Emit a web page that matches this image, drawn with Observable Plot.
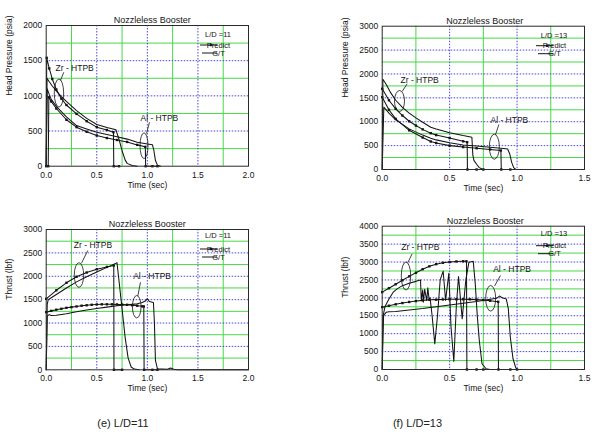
<!DOCTYPE html>
<html>
<head>
<meta charset="utf-8">
<script src="https://cdn.jsdelivr.net/npm/d3@7"></script>
<script src="https://cdn.jsdelivr.net/npm/@observablehq/plot@0.6"></script>
<style>
  html, body { margin: 0; padding: 0; background: #fff; }
  #fig { position: relative; width: 598px; height: 432px; overflow: hidden; background: #fff;
         font-family: "Liberation Sans", Arial, sans-serif; }
  #fig svg { position: absolute; }
  .cap { position: absolute; top: 423px; transform: translate(-50%, -50%); font-size: 11px;
         font-family: "Liberation Sans Narrow", "Liberation Sans", Arial, sans-serif; color: #222; white-space: nowrap; }
</style>
</head>
<body>
<div id="fig"></div>
<script>
// ---- axis ticks ----
const timeTicksLong = [0, 0.5, 1.0, 1.5, 2.0];
const timeTicksShort = [0, 0.5, 1.0, 1.5];
const ticks2000 = [0, 500, 1000, 1500, 2000];
const ticks3000 = [0, 500, 1000, 1500, 2000, 2500, 3000];
const ticks4000 = [0, 500, 1000, 1500, 2000, 2500, 3000, 3500, 4000];

// ---- (e) L/D=11 : head pressure (psia) ----
const hp11ZrPredT = [0, 0.005, 0.03, 0.06, 0.1, 0.15, 0.2, 0.3, 0.4, 0.5, 0.6, 0.665, 0.668, 0.72];
const hp11ZrPredV = [0, 1540, 1390, 1240, 1090, 960, 870, 744, 640, 555, 515, 483, 0, 0];
const hp11ZrGtT = [0, 0.008, 0.03, 0.06, 0.1, 0.15, 0.2, 0.3, 0.4, 0.5, 0.6, 0.69, 0.7, 0.72, 0.75, 0.78, 0.8, 0.85, 0.9];
const hp11ZrGtV = [0, 1250, 1200, 1140, 1070, 990, 920, 791, 680, 592, 550, 517, 470, 380, 220, 90, 40, 10, 0];
const hp11AlPredT = [0.02, 0.026, 0.05, 0.1, 0.2, 0.3, 0.4, 0.5, 0.6, 0.7, 0.8, 0.9, 0.98, 0.983, 1.05, 1.1];
const hp11AlPredV = [0, 980, 920, 820, 660, 555, 490, 436, 400, 372, 345, 303, 275, 0, 0, 0];
const hp11AlGtT = [0, 0.01, 0.03, 0.05, 0.1, 0.2, 0.3, 0.4, 0.5, 0.6, 0.7, 0.8, 0.9, 1.0, 1.05, 1.065, 1.08, 1.1, 1.13];
const hp11AlGtV = [0, 1100, 1020, 950, 850, 700, 578, 530, 483, 450, 420, 385, 341, 315, 305, 220, 80, 15, 0];

// ---- (f) L/D=13 : head pressure (psia) ----
const hp13ZrPredT = [0, 0.05, 0.1, 0.15, 0.2, 0.25, 0.3, 0.36, 0.4, 0.5, 0.6, 0.63, 0.632, 0.7, 0.75];
const hp13ZrPredV = [1690, 1450, 1270, 1130, 1010, 920, 840, 760, 720, 660, 590, 572, 0, 0, 0];
const hp13ZrGtT = [0, 0.005, 0.03, 0.06, 0.1, 0.15, 0.2, 0.25, 0.3, 0.36, 0.4, 0.5, 0.6, 0.665, 0.672, 0.68, 0.7, 0.72, 0.74, 0.76];
const hp13ZrGtV = [0, 1890, 1780, 1620, 1450, 1300, 1180, 1080, 990, 886, 850, 770, 710, 677, 300, 190, 110, 40, 10, 0];
const hp13AlPredT = [0, 0.05, 0.1, 0.2, 0.3, 0.36, 0.4, 0.5, 0.6, 0.7, 0.8, 0.88, 0.883, 0.95];
const hp13AlPredV = [1514, 1250, 1060, 820, 670, 586, 555, 500, 470, 445, 420, 398, 0, 0];
const hp13AlGtT = [0, 0.012, 0.05, 0.1, 0.2, 0.3, 0.36, 0.4, 0.5, 0.6, 0.7, 0.8, 0.9, 0.93, 0.945, 0.96, 0.975, 0.99];
const hp13AlGtV = [0, 1305, 1180, 1040, 850, 720, 656, 620, 560, 515, 490, 465, 440, 430, 330, 150, 40, 0];

// ---- (e) L/D=11 : thrust (lbf) ----
const th11ZrPredT = [0, 0.1, 0.2, 0.3, 0.4, 0.5, 0.6, 0.668, 0.67, 0.75];
const th11ZrPredV = [1518, 1700, 1860, 1990, 2080, 2150, 2200, 2230, 0, 0];
const th11ZrGtT = [0, 0.01, 0.02, 0.05, 0.1, 0.2, 0.3, 0.4, 0.5, 0.6, 0.68, 0.7, 0.72, 0.75, 0.78, 0.81, 0.84, 0.87, 0.92];
const th11ZrGtV = [0, 1400, 1500, 1540, 1610, 1750, 1880, 1990, 2090, 2190, 2270, 2290, 1900, 1300, 700, 250, 60, 15, 0];
const th11AlPredT = [0, 0.05, 0.1, 0.15, 0.2, 0.25, 0.3, 0.35, 0.4, 0.45, 0.5, 0.55, 0.6, 0.65, 0.7, 0.75, 0.8, 0.85, 0.9, 0.95, 0.965, 0.968, 1.05, 1.1];
const th11AlPredV = [1233, 1260, 1285, 1305, 1325, 1340, 1355, 1370, 1380, 1390, 1397, 1400, 1400, 1400, 1398, 1395, 1390, 1380, 1370, 1358, 1354, 0, 0, 0];
const th11AlGtT = [0, 0.01, 0.03, 0.05, 0.1, 0.2, 0.3, 0.4, 0.5, 0.6, 0.7, 0.8, 0.9, 0.95, 0.98, 1.0, 1.02, 1.04, 1.06, 1.07, 1.08, 1.1, 1.2, 1.23, 1.26, 1.3, 2.0];
const th11AlGtV = [0, 1150, 1180, 1160, 1165, 1200, 1240, 1280, 1310, 1340, 1370, 1390, 1410, 1440, 1470, 1520, 1460, 1450, 1440, 1000, 200, 20, 10, 40, 10, 0, 0];

// ---- (f) L/D=13 : thrust (lbf) ----
const th13ZrPredT = [0, 0.05, 0.1, 0.15, 0.2, 0.25, 0.3, 0.35, 0.4, 0.45, 0.5, 0.55, 0.6, 0.625, 0.628, 0.7, 0.75];
const th13ZrPredV = [2160, 2270, 2380, 2490, 2600, 2700, 2800, 2880, 2940, 2980, 3000, 3015, 3020, 3020, 0, 0, 0];
const th13ZrGtT = [0, 0.005, 0.02, 0.05, 0.08, 0.11, 0.15, 0.2, 0.25, 0.284, 0.29, 0.3, 0.305, 0.315, 0.33, 0.338, 0.348, 0.355, 0.37, 0.39, 0.41, 0.43, 0.452, 0.47, 0.494, 0.51, 0.531, 0.55, 0.566, 0.593, 0.62, 0.643, 0.675, 0.69, 0.705, 0.72, 0.74, 0.77, 0.8];
const th13ZrGtV = [0, 1460, 1750, 1970, 2150, 2250, 2340, 2410, 2460, 2500, 1925, 2220, 1880, 2240, 1925, 2280, 1950, 2000, 1500, 716, 1500, 2500, 2744, 1925, 2688, 1200, 223, 1800, 2595, 1414, 2500, 2995, 3023, 2390, 1500, 810, 160, 20, 0];
const th13AlPredT = [0, 0.05, 0.1, 0.15, 0.2, 0.25, 0.3, 0.35, 0.4, 0.45, 0.5, 0.55, 0.6, 0.65, 0.7, 0.75, 0.8, 0.86, 0.862, 0.95, 1.0];
const th13AlPredV = [1740, 1780, 1820, 1855, 1885, 1910, 1930, 1945, 1950, 1955, 1960, 1960, 1960, 1958, 1950, 1940, 1920, 1890, 0, 0, 0];
const th13AlGtT = [0, 0.01, 0.03, 0.05, 0.1, 0.2, 0.3, 0.4, 0.5, 0.6, 0.7, 0.8, 0.85, 0.87, 0.89, 0.92, 0.935, 0.95, 0.97, 0.99, 1.0, 1.5];
const th13AlGtV = [0, 1500, 1600, 1610, 1620, 1660, 1700, 1750, 1800, 1850, 1900, 1960, 1990, 2050, 2000, 1970, 1700, 900, 300, 50, 0, 0];

// ---- drawing ----
const ink = "#141414";
const gridGreen = "#48d848";
const gridBlue = "#4848d0";
const rows = (ts, vs) => ts.map((t, i) => ({t, v: vs[i]}));
const innerTicks = (ticks) => ticks.slice(1, -1);
const midTicks = (ticks) => d3.pairs(ticks, (a, b) => (a + b) / 2);

// ellipses around each pair of curves (centre in data units, radii in px)
function ellipseMark(notes) {
  return (index, scales) => {
    const g = d3.create("svg:g").attr("fill", "none").attr("stroke", ink).attr("stroke-width", 0.8);
    for (const n of notes) {
      g.append("ellipse").attr("cx", scales.x(n.ex)).attr("cy", scales.y(n.ey)).attr("rx", n.rx).attr("ry", n.ry);
    }
    return g.node();
  };
}

// "L/D" legend block anchored to the top-right corner of the frame
function legendMark(ld, ldDy) {
  return (index, scales, values, dims) => {
    const R = dims.width - dims.marginRight, T = dims.marginTop;
    const g = d3.create("svg:g").attr("font-size", 7.5).attr("fill", ink);
    g.append("text").attr("x", R - 30).attr("y", T + ldDy).attr("text-anchor", "middle").attr("dy", "0.35em").text(ld);
    g.append("line").attr("x1", R - 48).attr("x2", R - 31).attr("y1", T + 20).attr("y2", T + 20).attr("stroke", ink).attr("stroke-width", 1);
    g.append("rect").attr("x", R - 38.2).attr("y", T + 18.8).attr("width", 2.4).attr("height", 2.4).attr("fill", ink);
    g.append("text").attr("x", R - 29.5).attr("y", T + 20).attr("dy", "0.35em").text("Predict");
    g.append("line").attr("x1", R - 46).attr("x2", R - 31).attr("y1", T + 28).attr("y2", T + 28).attr("stroke", ink).attr("stroke-width", 1);
    g.append("text").attr("x", R - 29.5).attr("y", T + 28).attr("dy", "0.35em").text("G/T");
    return g.node();
  };
}

function panel(cfg) {
  const marks = [
    Plot.ruleX(midTicks(cfg.xTicks), {stroke: gridGreen, strokeWidth: 1}),
    Plot.ruleY(midTicks(cfg.yTicks), {stroke: gridGreen, strokeWidth: 1}),
    Plot.ruleX(innerTicks(cfg.xTicks), {stroke: gridBlue, strokeWidth: 1, strokeDasharray: "1.5,1.5"}),
    Plot.ruleY(innerTicks(cfg.yTicks), {stroke: gridBlue, strokeWidth: 1, strokeDasharray: "1.5,1.5"})
  ];
  for (const s of cfg.series) {
    const data = rows(s.t, s.v);
    marks.push(Plot.line(data, {x: "t", y: "v", stroke: ink, strokeWidth: 1.05}));
    if (s.predict) marks.push(Plot.dot(data, {x: "t", y: "v", symbol: "square", r: 1.35, fill: ink, stroke: "none"}));
  }
  marks.push(
    Plot.frame({stroke: "#2a2a2a", strokeWidth: 1}),
    Plot.text(cfg.notes, {x: "tx", y: "ty", text: "label", textAnchor: "start", fontSize: 8.5, fill: ink}),
    Plot.link(cfg.notes, {x1: "lx1", y1: "ly1", x2: "lx2", y2: "ly2", stroke: ink, strokeWidth: 0.8}),
    ellipseMark(cfg.notes),
    legendMark(cfg.ld, cfg.ldDy),
    Plot.text(["Nozzleless Booster"], {frameAnchor: "top", dy: -9, dx: cfg.titleDx, fontSize: 9, fill: ink}),
    Plot.text(["Time (sec)"], {frameAnchor: "bottom", dy: 21.3, fontSize: 8.5, fill: ink}),
    Plot.text([cfg.yLabel], {frameAnchor: "left", dx: -37.2, rotate: -90, fontSize: 8.5, fill: ink})
  );
  const svg = Plot.plot({
    width: cfg.width, height: cfg.height,
    marginTop: cfg.margin[0], marginRight: cfg.margin[1], marginBottom: cfg.margin[2], marginLeft: cfg.margin[3],
    style: {fontFamily: "'Liberation Sans', Arial, sans-serif", fontSize: "8.5px", color: ink, background: "none", overflow: "visible"},
    x: {domain: cfg.xDomain, ticks: cfg.xTicks, tickFormat: d3.format(".1f"), tickSize: 0, tickPadding: 5.3, label: null},
    y: {domain: cfg.yDomain, ticks: cfg.yTicks, tickFormat: d3.format("d"), tickSize: 0, tickPadding: 4, label: null},
    marks
  });
  svg.style.left = cfg.left + "px";
  svg.style.top = cfg.top + "px";
  return svg;
}

const panels = [
  {
    left: 0, top: 0, width: 300, height: 200, margin: [25, 52, 34.3, 45.7],
    xDomain: [0, 2], yDomain: [0, 2000], xTicks: timeTicksLong, yTicks: ticks2000,
    yLabel: "Head Pressure (psia)", ld: "L/D =11", ldDy: 9.5, titleDx: 4.8,
    series: [
      {t: hp11ZrPredT, v: hp11ZrPredV, predict: true},
      {t: hp11ZrGtT, v: hp11ZrGtV},
      {t: hp11AlPredT, v: hp11AlPredV, predict: true},
      {t: hp11AlGtT, v: hp11AlGtV}
    ],
    notes: [
      {label: "Zr - HTPB", tx: 0.092, ty: 1385, ex: 0.131, ey: 1033, rx: 4.7, ry: 14, lx1: 0.174, ly1: 1336, lx2: 0.141, ly2: 1218},
      {label: "Al - HTPB", tx: 0.932, ty: 688, ex: 0.972, ey: 284, rx: 4, ry: 12.8, lx1: 1.021, ly1: 625, lx2: 0.992, ly2: 465}
    ]
  },
  {
    left: 300, top: 0, width: 298, height: 200, margin: [25.7, 14, 31, 81.7],
    xDomain: [0, 1.5], yDomain: [0, 3000], xTicks: timeTicksShort, yTicks: ticks3000,
    yLabel: "Head Pressure (psia)", ld: "L/D =13", ldDy: 9.3, titleDx: 1.5,
    series: [
      {t: hp13ZrPredT, v: hp13ZrPredV, predict: true},
      {t: hp13ZrGtT, v: hp13ZrGtV},
      {t: hp13AlPredT, v: hp13AlPredV, predict: true},
      {t: hp13AlGtT, v: hp13AlGtV}
    ],
    notes: [
      {label: "Zr - HTPB", tx: 0.136, ty: 1863, ex: 0.132, ey: 1423, rx: 5, ry: 10.5, lx1: 0.185, ly1: 1794, lx2: 0.148, ly2: 1633},
      {label: "Al - HTPB", tx: 0.803, ty: 1026, ex: 0.835, ey: 467, rx: 5, ry: 12.5, lx1: 0.865, ly1: 942, lx2: 0.840, ly2: 728}
    ]
  },
  {
    left: 0, top: 200, width: 300, height: 200, margin: [29, 52, 30.7, 45.7],
    xDomain: [0, 2], yDomain: [0, 3000], xTicks: timeTicksLong, yTicks: ticks3000,
    yLabel: "Thrust (lbf)", ld: "L/D =11", ldDy: 6.5, titleDx: 0,
    series: [
      {t: th11ZrPredT, v: th11ZrPredV, predict: true},
      {t: th11ZrGtT, v: th11ZrGtV},
      {t: th11AlPredT, v: th11AlPredV, predict: true},
      {t: th11AlGtT, v: th11AlGtV}
    ],
    notes: [
      {label: "Zr - HTPB", tx: 0.273, ty: 2658, ex: 0.329, ey: 2016, rx: 4.7, ry: 12.3, lx1: 0.411, ly1: 2551, lx2: 0.349, ly2: 2279},
      {label: "Al - HTPB", tx: 0.860, ty: 2001, ex: 0.900, ey: 1338, rx: 4.3, ry: 11.2, lx1: 0.932, ly1: 1873, lx2: 0.906, ly2: 1578}
    ]
  },
  {
    left: 300, top: 200, width: 298, height: 200, margin: [25.7, 14, 31, 81.7],
    xDomain: [0, 1.5], yDomain: [0, 4000], xTicks: timeTicksShort, yTicks: ticks4000,
    yLabel: "Thrust (lbf)", ld: "L/D =13", ldDy: 7.5, titleDx: 2,
    series: [
      {t: th13ZrPredT, v: th13ZrPredV, predict: true},
      {t: th13ZrGtT, v: th13ZrGtV},
      {t: th13AlPredT, v: th13AlPredV, predict: true},
      {t: th13AlGtT, v: th13AlGtV}
    ],
    notes: [
      {label: "Zr - HTPB", tx: 0.141, ty: 3413, ex: 0.180, ey: 2596, rx: 4.7, ry: 14, lx1: 0.222, ly1: 3229, lx2: 0.190, ly2: 2986},
      {label: "Al - HTPB", tx: 0.823, ty: 2810, ex: 0.808, ey: 1973, rx: 5, ry: 12.8, lx1: 0.877, ly1: 2623, lx2: 0.833, ly2: 2330}
    ]
  }
];

const fig = document.getElementById("fig");
for (const cfg of panels) fig.appendChild(panel(cfg));

for (const [text, x] of [["(e) L/D=11", 123], ["(f) L/D=13", 417.5]]) {
  const d = document.createElement("div");
  d.className = "cap";
  d.style.left = x + "px";
  d.textContent = text;
  fig.appendChild(d);
}
</script>
</body>
</html>
